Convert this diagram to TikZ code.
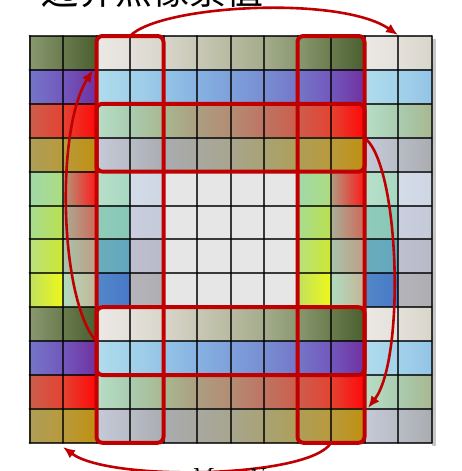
\documentclass[tikz,border=0pt]{standalone}
\usepackage{fontspec}
\newfontfamily\cjk{Noto Sans CJK SC}
\usetikzlibrary{arrows.meta}
\definecolor{darkred}{HTML}{C00000}
\newcommand\defcell[4]{\definecolor{L#1#2}{HTML}{#3}\definecolor{R#1#2}{HTML}{#4}}
\defcell{0}{0}{B6DEC6}{AACCB0}\defcell{0}{1}{AACCB0}{A8B890}\defcell{0}{2}{A8B890}{AC9E80}\defcell{0}{3}{AC9E80}{B48C74}
\defcell{0}{4}{B48C74}{BE7462}\defcell{0}{5}{BE7462}{CC5E4C}\defcell{0}{6}{CC5E4C}{E44232}\defcell{0}{7}{E44232}{FF0808}
\defcell{1}{0}{C6CAD8}{B8BCC6}\defcell{1}{1}{B8BCC6}{AAACB0}\defcell{1}{2}{AAACB0}{A8A8A0}\defcell{1}{3}{A8A8A0}{A8A68E}
\defcell{1}{4}{A8A68E}{A8A274}\defcell{1}{5}{A8A274}{AE9E58}\defcell{1}{6}{AE9E58}{B89A3C}\defcell{1}{7}{B89A3C}{C09010}
\defcell{2}{0}{B8E0CA}{A8D8C2}\defcell{2}{1}{D4DCEA}{CED6E4}\defcell{2}{6}{A0D8A8}{ACDC80}\defcell{2}{7}{B09C80}{FF1818}
\defcell{3}{0}{90CCBA}{88C6B6}\defcell{3}{1}{CACEE0}{C4CAD8}\defcell{3}{6}{A8DC90}{BAE050}\defcell{3}{7}{A8B098}{D06858}
\defcell{4}{0}{6AAEBC}{62A6BE}\defcell{4}{1}{BEC0D0}{B8BAC8}\defcell{4}{6}{B8E080}{CCE830}\defcell{4}{7}{A8C4AC}{C09C84}
\defcell{5}{0}{5288C8}{4878C8}\defcell{5}{1}{B4B4BA}{AEAEB2}\defcell{5}{6}{C0E060}{EEF818}\defcell{5}{7}{B0DCC0}{C4B494}
\defcell{2}{2}{E6E6E6}{E6E6E6}\defcell{2}{3}{E6E6E6}{E6E6E6}\defcell{2}{4}{E6E6E6}{E6E6E6}\defcell{2}{5}{E6E6E6}{E6E6E6}
\defcell{3}{2}{E6E6E6}{E6E6E6}\defcell{3}{3}{E6E6E6}{E6E6E6}\defcell{3}{4}{E6E6E6}{E6E6E6}\defcell{3}{5}{E6E6E6}{E6E6E6}
\defcell{4}{2}{E6E6E6}{E6E6E6}\defcell{4}{3}{E6E6E6}{E6E6E6}\defcell{4}{4}{E6E6E6}{E6E6E6}\defcell{4}{5}{E6E6E6}{E6E6E6}
\defcell{5}{2}{E6E6E6}{E6E6E6}\defcell{5}{3}{E6E6E6}{E6E6E6}\defcell{5}{4}{E6E6E6}{E6E6E6}\defcell{5}{5}{E6E6E6}{E6E6E6}
\defcell{6}{0}{ECE8E4}{E4E0DA}\defcell{6}{1}{E4E0DA}{D8D6CA}\defcell{6}{2}{D8D6CA}{C8C8B6}\defcell{6}{3}{C8C8B6}{B8BAA0}
\defcell{6}{4}{B8BAA0}{A4AC8C}\defcell{6}{5}{A4AC8C}{8A9870}\defcell{6}{6}{8A9870}{6A7C4E}\defcell{6}{7}{6A7C4E}{4A5E2E}
\defcell{7}{0}{B0DCEC}{A2D2EA}\defcell{7}{1}{A2D2EA}{94C4E6}\defcell{7}{2}{94C4E6}{86B2E2}\defcell{7}{3}{86B2E2}{7EA0DA}
\defcell{7}{4}{7EA0DA}{788ED2}\defcell{7}{5}{788ED2}{7476C8}\defcell{7}{6}{7476C8}{7258BC}\defcell{7}{7}{7258BC}{7030A0}
\begin{document}
\begin{tikzpicture}[x=1pt,y=-1pt,line cap=round,line join=round,
  redbox/.style={draw=darkred,line width=4pt,rounded corners=6pt,inner sep=0pt,outer sep=0pt},
  gridline/.style={line width=2pt,black,opacity=0.75},
  wraparrow/.style={darkred,line width=2.6pt,-{Latex[length=12pt,width=10pt]}}]
  \useasboundingbox (0,0) rectangle (461,471);
  \clip (0,0) rectangle (461,471);
  \fill[black!22] (431.5,39) rectangle (436,446);
  \foreach \r in {0,...,11}
    \foreach \c in {0,...,11} {
      \pgfmathtruncatemacro\orow{mod(\r+6,8)}
      \pgfmathtruncatemacro\ocol{mod(\c+6,8)}
      \shade[left color=L\orow\ocol,right color=R\orow\ocol]
        (29.5+33.5*\c,36+33.9*\r) rectangle ++(33.5,33.9);
    }
  \foreach \k in {0,...,12} {
    \draw[gridline] (29.5+33.5*\k,36) -- (29.5+33.5*\k,442.8);
    \draw[gridline] (29.5,36+33.9*\k) -- (431.5,36+33.9*\k);
  }
  \node[redbox,minimum width=67pt,minimum height=406.8pt] (colL) at (130,239.4) {};
  \node[redbox,minimum width=67pt,minimum height=406.8pt] (colR) at (331,239.4) {};
  \node[redbox,minimum width=268pt,minimum height=67.8pt] (rowT) at (230.5,137.7) {};
  \node[redbox,minimum width=268pt,minimum height=67.8pt] (rowB) at (230.5,341.1) {};
  \coordinate (topEnd) at (398,35);
  \coordinate (leftStart) at (96,341);
  \coordinate (leftEnd) at (93,70);
  \coordinate (rightStart) at (366,139);
  \coordinate (rightEnd) at (368,408);
  \coordinate (botEnd) at (63,447);
  \draw[wraparrow] (colL.north) .. controls (160,5) and (340,-5) .. (topEnd);
  \draw[wraparrow] (leftStart) .. controls (60,300) and (55,130) .. (leftEnd);
  \draw[wraparrow] (rightStart) .. controls (400,170) and (405,360) .. (rightEnd);
  \draw[wraparrow] (colR.south) .. controls (310,478) and (110,482) .. (botEnd);
  \node[anchor=base,inner sep=0pt] (title) at (152,5) {\fontsize{37}{40}\selectfont\cjk 边界点像素值};
  \node[anchor=base,inner sep=0pt] (size) at (228,485) {\fontsize{32}{36}\selectfont $M-N$};
\end{tikzpicture}
\end{document}
